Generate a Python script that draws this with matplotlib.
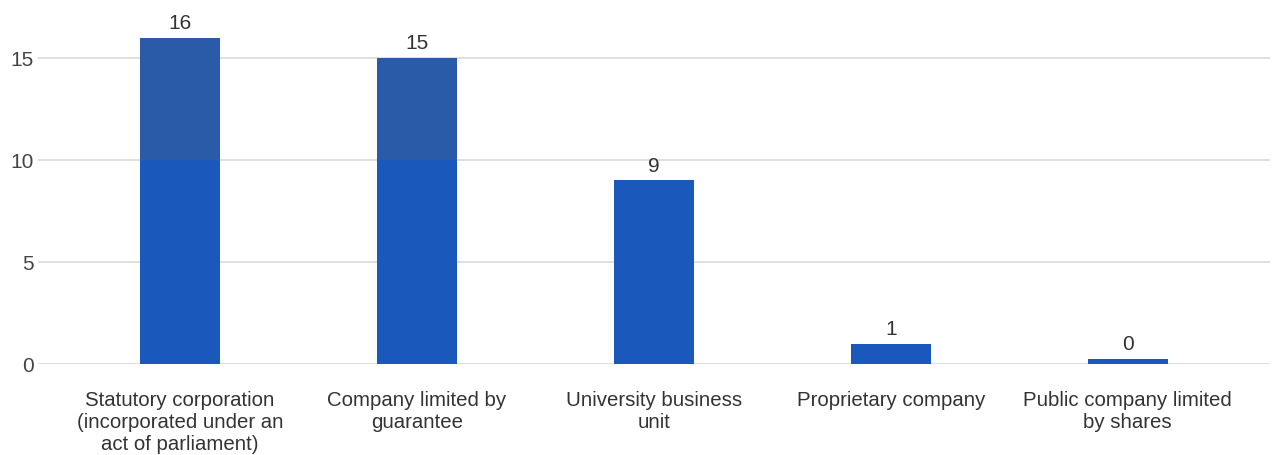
import matplotlib.pyplot as plt
import numpy as np

plt.rcParams['font.family'] = ['Liberation Sans', 'DejaVu Sans']

categories = ['Statutory corporation\n(incorporated under an\nact of parliament)',
              'Company limited by\nguarantee',
              'University business\nunit',
              'Proprietary company',
              'Public company limited\nby shares']
counts = [16, 15, 9, 1, 0]

blue = '#1a59bb'
blue_hi = '#2a5ba8'

fig = plt.figure(figsize=(12.74, 4.56), dpi=100)
ax = fig.add_axes([0.0298, 0.1996, 0.967, 0.783])

x = np.arange(len(counts))
w = 0.337
# zero values still get a thin visible bar
shown = [max(v, 0.25) for v in counts]
low = [min(v, 10) for v in shown]
high = [max(v - 10, 0) for v in shown]
ax.bar(x, low, width=w, color=blue, zorder=3)
ax.bar(x, high, width=w, bottom=10, color=blue_hi, zorder=3)

for xi, v, s in zip(x, counts, shown):
    ax.annotate(str(v), (xi, s), xytext=(0, 4), textcoords='offset points',
                ha='center', va='bottom', fontsize=15, color='#333333')

ax.set_xlim(-0.6, 4.6)
ax.set_ylim(0, 17.5)
ax.set_yticks([0, 5, 10, 15])
ax.set_xticks(x)
ax.set_xticklabels(categories, fontsize=14.7, color='#333333', linespacing=1.2)
ax.tick_params(axis='x', length=0, pad=19)
ax.tick_params(axis='y', length=0, pad=3, labelsize=15, labelcolor='#444444')
ax.grid(axis='y', color='#d9d9d9', linewidth=1.2, zorder=0)
for s in ax.spines.values():
    s.set_visible(False)

fig.savefig('out.png', dpi=100)
